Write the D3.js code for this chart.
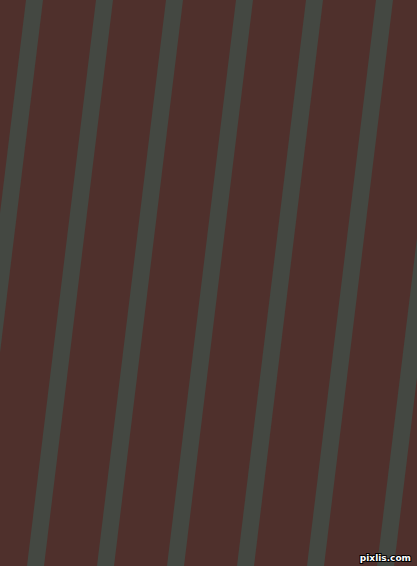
<!DOCTYPE html>
<html>
<head>
<meta charset="utf-8">
<script src="https://cdn.jsdelivr.net/npm/d3@7"></script>
<style>
  html, body { margin: 0; padding: 0; background: #4f302c; overflow: hidden; }
  svg { display: block; }
</style>
</head>
<body>
<svg id="chart"></svg>
<script>
// stripes, counted left to right (index 0 = first full stripe at top)
const stripeIds = [-1, 0, 1, 2, 3, 4, 5, 6];
// x offset of a stripe centre at the top edge, relative to stripe 0
const stripeTopX = [-70, 0, 70, 140, 210, 280, 350, 420];
const caption = ["pixlis.com"];

var width = 417
var height = 566
var stripeW = 17      // horizontal thickness
var slant = -69       // drift of a stripe from top to bottom

var svg = d3.select("#chart")
  .attr("width", width)
  .attr("height", height)

svg.append("rect")
  .attr("width", width)
  .attr("height", height)
  .attr("fill", "#4f302c")

var x = d3.scaleLinear()
  .domain([0, 70])
  .range([34.5, 104.5])

var y = d3.scaleLinear()
  .domain([0, 1])
  .range([0, height])

var stripes = stripeIds.map((id, i) => ({ id: id, top: stripeTopX[i] }))

svg.selectAll(".stripe")
  .data(stripes)
  .enter().append("polygon")
  .attr("class", "stripe")
  .attr("fill", "#444842")
  .attr("points", d => {
    let xt = x(d.top)
    let xb = xt + slant
    return [
      [xt - stripeW / 2, y(0)],
      [xt + stripeW / 2, y(0)],
      [xb + stripeW / 2, y(1)],
      [xb - stripeW / 2, y(1)]
    ].map(p => p.join(",")).join(" ")
  })

// little watermark, bottom right
svg.selectAll(".mark")
  .data(caption)
  .enter().append("text")
  .attr("class", "mark")
  .attr("x", 411)
  .attr("y", 561)
  .attr("text-anchor", "end")
  .style("font-family", "DejaVu Sans, sans-serif")
  .style("font-size", "9px")
  .style("font-weight", "bold")
  .attr("fill", "#ffffff")
  .attr("stroke", "#000000")
  .attr("stroke-width", 2)
  .attr("paint-order", "stroke")
  .text(d => d)
</script>
</body>
</html>
